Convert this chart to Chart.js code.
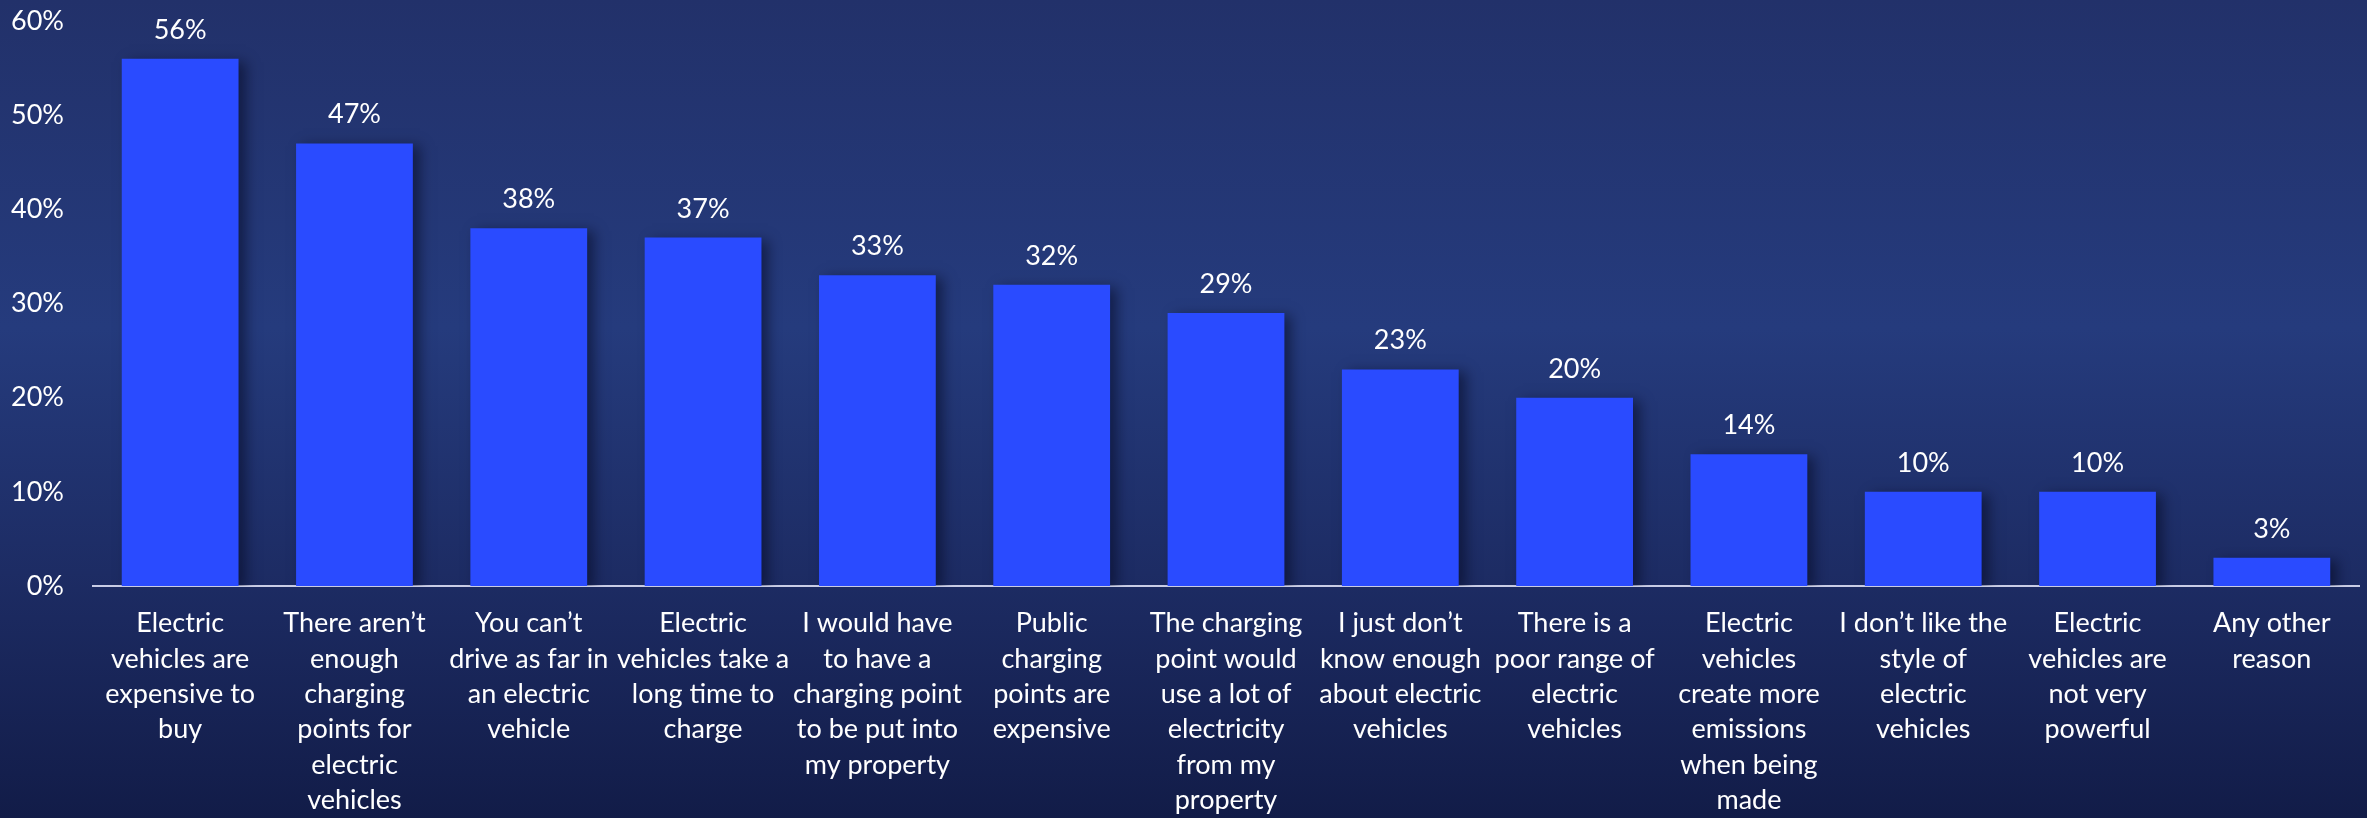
<!DOCTYPE html>
<html>
<head>
<meta charset="utf-8">
<script src="https://cdn.jsdelivr.net/npm/chart.js@4/dist/chart.umd.min.js"></script>
<style>
  html, body { margin: 0; padding: 0; overflow: hidden; }
  body {
    width: 2367px; height: 818px;
    background: linear-gradient(to bottom, #22316a 0%, #253b7d 40%, #1d2c64 70%, #121c48 100%);
  }
  #wrap { position: relative; width: 2367px; height: 818px; }
</style>
</head>
<body>
<div id="wrap"><canvas id="chart"></canvas></div>
<script>
// Reasons for not buying an electric vehicle (share of respondents)
const reasons = [
  ["Electric", "vehicles are", "expensive to", "buy"],
  ["There aren’t", "enough", "charging", "points for", "electric", "vehicles"],
  ["You can’t", "drive as far in", "an electric", "vehicle"],
  ["Electric", "vehicles take a", "long time to", "charge"],
  ["I would have", "to have a", "charging point", "to be put into", "my property"],
  ["Public", "charging", "points are", "expensive"],
  ["The charging", "point would", "use a lot of", "electricity", "from my", "property"],
  ["I just don’t", "know enough", "about electric", "vehicles"],
  ["There is a", "poor range of", "electric", "vehicles"],
  ["Electric", "vehicles", "create more", "emissions", "when being", "made"],
  ["I don’t like the", "style of", "electric", "vehicles"],
  ["Electric", "vehicles are", "not very", "powerful"],
  ["Any other", "reason"]
];
const shares = [56, 47, 38, 37, 33, 32, 29, 23, 20, 14, 10, 10, 3];
const yTicks = [0, 10, 20, 30, 40, 50, 60];

const FONT = "Lato, 'Open Sans', sans-serif";
const TEXT = "#ffffff";

// Soft shadow cast to the right of each bar
const barShadow = {
  id: 'barShadow',
  beforeDatasetsDraw(chart) {
    const ctx = chart.ctx;
    ctx.save();
    ctx.shadowColor = 'rgba(5, 10, 35, 0.55)';
    ctx.shadowBlur = 12;
    ctx.shadowOffsetX = 7;
    ctx.shadowOffsetY = 3;
  },
  afterDatasetsDraw(chart) {
    chart.ctx.restore();
  }
};

// Percentage written above each bar
const valueLabels = {
  id: 'valueLabels',
  afterDatasetsDraw(chart) {
    const ctx = chart.ctx;
    const meta = chart.getDatasetMeta(0);
    ctx.save();
    ctx.fillStyle = TEXT;
    ctx.font = "27px " + FONT;
    ctx.textAlign = 'center';
    ctx.textBaseline = 'alphabetic';
    meta.data.forEach((bar, i) => {
      ctx.fillText(shares[i] + '%', bar.x, bar.y - 20);
    });
    ctx.restore();
  }
};

Chart.defaults.font.family = FONT;
Chart.defaults.color = TEXT;

new Chart(document.getElementById('chart'), {
  type: 'bar',
  data: {
    labels: reasons,
    datasets: [{
      data: shares,
      backgroundColor: '#2a4bff',
      borderWidth: 0,
      categoryPercentage: 1,
      barPercentage: 0.67
    }]
  },
  options: {
    responsive: true,
    maintainAspectRatio: false,
    animation: false,
    layout: { padding: { top: 21, right: 8, left: 0, bottom: 0 } },
    plugins: {
      legend: { display: false },
      tooltip: { enabled: false }
    },
    scales: {
      x: {
        grid: { display: false, drawTicks: false },
        border: { display: true, color: '#c9cde6', width: 2 },
        ticks: {
          color: TEXT,
          font: { size: 27, family: FONT, lineHeight: 1.31 },
          maxRotation: 0,
          minRotation: 0,
          autoSkip: false,
          padding: 20
        },
        afterFit(scale) { scale.height = 232; }
      },
      y: {
        min: 0,
        max: 60,
        grid: { display: false, drawTicks: false },
        border: { display: false },
        afterBuildTicks(scale) { scale.ticks = yTicks.map(v => ({ value: v })); },
        ticks: {
          color: TEXT,
          font: { size: 27, family: FONT },
          padding: 29,
          callback: v => v + '%'
        },
        afterFit(scale) {
          scale.width = 93;
          scale.paddingTop = 0;
          scale.paddingBottom = 0;
        }
      }
    }
  },
  plugins: [barShadow, valueLabels]
});
</script>
</body>
</html>
